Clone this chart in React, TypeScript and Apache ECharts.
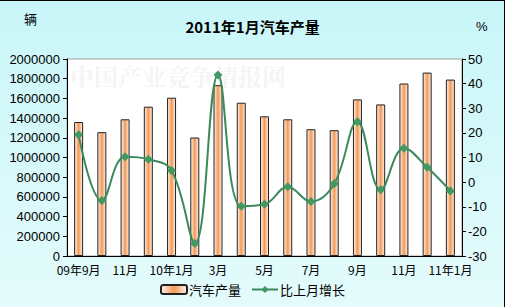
import React, { useEffect, useRef } from "react";
import * as echarts from "echarts";

const categories = [
  "09年9月", "10月", "11月", "12月", "10年1月", "2月", "3月", "4月", "5月",
  "6月", "7月", "8月", "9月", "10月", "11月", "12月", "11年1月",
];
const production = [
  1360000, 1257000, 1388000, 1516000, 1607000, 1203000, 1734000, 1556000, 1418000,
  1388000, 1287000, 1277000, 1590000, 1539000, 1751000, 1862000, 1791000,
];
const growth = [
  19.2, -7.5, 10.3, 9.3, 4.7, -24.9, 43.5, -9.8, -9.0,
  -1.9, -7.9, -0.7, 24.5, -3.1, 13.8, 6.0, -3.6,
];
const leftTicks = { min: 0, max: 2000000, interval: 200000 };
const rightTicks = { min: -30, max: 50, interval: 10 };

const FONT = "'Liberation Sans', Arial, sans-serif";
const CJK = "'Noto Sans CJK SC', 'Liberation Sans', sans-serif";

export default function App() {
  const ref = useRef<HTMLDivElement>(null);
  useEffect(() => {
    document.body.style.margin = "0";
    const chart = echarts.init(ref.current!, null, { renderer: "svg" });
    const barColor = new echarts.graphic.LinearGradient(0, 0, 1, 0, [
      { offset: 0, color: "#fff3ee" },
      { offset: 0.5, color: "#f29a55" },
      { offset: 1, color: "#fff3ee" },
    ]);
    chart.setOption({
      animation: false,
      backgroundColor: new echarts.graphic.LinearGradient(0, 0, 0, 1, [
        { offset: 0, color: "#c9f6f9" },
        { offset: 1, color: "#e4fbfb" },
      ]),
      title: {
        text: "2011年1月汽车产量",
        left: "center",
        top: 14,
        textStyle: { fontSize: 15, fontWeight: "bold", color: "#000", fontFamily: CJK },
      },
      graphic: [
        {
          type: "text",
          left: 70,
          top: 63,
          z: 1,
          style: {
            text: "中国产业竞争情报网",
            font: "bold 24px 'Noto Serif CJK SC', 'Noto Sans CJK SC', serif",
            fill: "rgba(190,190,190,0.16)",
          },
        },
        {
          type: "text",
          left: 24,
          top: 12,
          style: { text: "辆", font: `13px ${CJK}`, fill: "#000" },
        },
        {
          type: "text",
          left: 476,
          top: 20,
          style: { text: "%", font: `13px ${FONT}`, fill: "#000" },
        },
        {
          type: "line",
          shape: { x1: 0, y1: 0.5, x2: 505, y2: 0.5 },
          style: { stroke: "#000", lineWidth: 1 },
        },
        {
          type: "line",
          shape: { x1: 504.5, y1: 0, x2: 504.5, y2: 307 },
          style: { stroke: "#000", lineWidth: 1 },
        },
      ],
      grid: {
        left: 67,
        right: 43,
        top: 59,
        bottom: 51,
        show: true,
        backgroundColor: "#fff",
        borderColor: "#a0a0a0",
        borderWidth: 1,
      },
      legend: {
        bottom: 6,
        left: "center",
        itemWidth: 26,
        itemHeight: 9,
        itemGap: 10,
        textStyle: { fontSize: 13, fontFamily: CJK, color: "#000", padding: [0, 0, 0, -3] },
        data: ["汽车产量", "比上月增长"],
      },
      xAxis: {
        type: "category",
        data: categories,
        boundaryGap: true,
        axisLine: { lineStyle: { color: "#000", width: 1 } },
        axisTick: { inside: true, length: 4, interval: 0, lineStyle: { color: "#000" } },
        axisLabel: { interval: 1, color: "#000", fontSize: 12, fontFamily: CJK, margin: 7 },
      },
      yAxis: [
        {
          type: "value",
          min: leftTicks.min,
          max: leftTicks.max,
          interval: leftTicks.interval,
          splitLine: { show: false },
          axisLine: { show: true, lineStyle: { color: "#000" } },
          axisTick: { show: true, length: 4, lineStyle: { color: "#000" } },
          axisLabel: {
            color: "#000",
            fontSize: 13,
            fontFamily: FONT,
            margin: 7,
            formatter: (v: number) => String(v),
          },
        },
        {
          type: "value",
          position: "right",
          min: rightTicks.min,
          max: rightTicks.max,
          interval: rightTicks.interval,
          splitLine: { show: false },
          axisLine: { show: true, lineStyle: { color: "#000" } },
          axisTick: { show: true, length: 4, lineStyle: { color: "#000" } },
          axisLabel: { color: "#000", fontSize: 13, fontFamily: FONT, margin: 6 },
        },
      ],
      series: [
        {
          name: "汽车产量",
          type: "bar",
          data: production,
          barWidth: 9,
          itemStyle: { color: barColor, borderColor: "#222", borderWidth: 1 },
        },
        {
          name: "比上月增长",
          type: "line",
          yAxisIndex: 1,
          data: growth,
          smooth: 0.4,
          symbol: "diamond",
          symbolSize: 9,
          lineStyle: { color: "#3b8a5c", width: 2 },
          itemStyle: { color: "#3f9960" },
        },
      ],
    });
    return () => chart.dispose();
  }, []);
  return <div ref={ref} style={{ width: 505, height: 307 }} />;
}
